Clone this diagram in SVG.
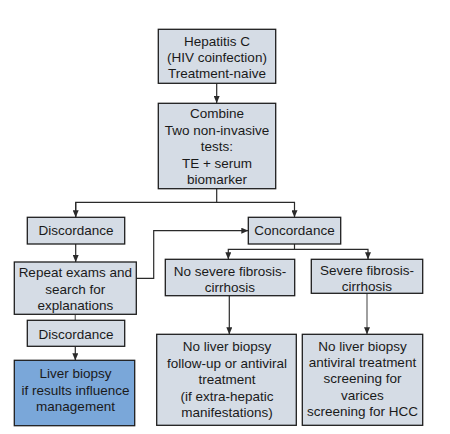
<svg xmlns="http://www.w3.org/2000/svg" width="450" height="434" viewBox="0 0 450 434">
<style>
.box{fill:#d5dce5;stroke:#1e1e1e;stroke-width:1.3}
.blue{fill:#7aa7d9;stroke:#1e1e1e;stroke-width:1.3}
text{font-family:"Liberation Sans",Arial,sans-serif;font-size:13.5px;fill:#1a1a1a;text-anchor:middle}
.c{fill:none;stroke:#2a2a2a;stroke-width:1.2}
.g{fill:none;stroke:#777;stroke-width:1.4}
</style>
<defs>
<marker id="ah" markerUnits="userSpaceOnUse" markerWidth="7" markerHeight="6" refX="7" refY="3" orient="auto">
<path d="M0,0 L7,3 L0,6 z" fill="#2a2a2a"/>
</marker>
</defs>
<rect width="450" height="434" fill="#ffffff"/>
<g id="connectors">
<path class="c" d="M216.7,83.3 V103" marker-end="url(#ah)"/>
<path class="c" d="M216.7,188.7 V202.3"/>
<path class="c" d="M75.7,217.3 V202.3 H294.5 V217.3" marker-end="url(#ah)"/>
<path class="c" d="M75.7,202.3 V217.3" marker-end="url(#ah)"/>
<path class="c" d="M75.7,244 V262" marker-end="url(#ah)"/>
<path class="c" d="M136.3,278.3 H153.7 V230.7 H248.3" marker-end="url(#ah)"/>
<path class="g" d="M75.3,314.3 V320.3"/>
<path class="c" d="M75.3,346.3 V360.3" marker-end="url(#ah)"/>
<path class="c" d="M294.5,244 V249.3 H368 V259.3" marker-end="url(#ah)"/>
<path class="c" d="M294.5,249.3 H228.3 V259.3" marker-end="url(#ah)"/>
<path class="c" d="M229.3,295.7 V334.3" marker-end="url(#ah)"/>
<path class="g" d="M367,293.3 V334.3" marker-end="url(#ah)"/>
</g>
<g id="n-hepatitis">
<rect class="box" x="158.3" y="29.3" width="117.4" height="54"/>
<text x="217" y="45.5">Hepatitis C</text>
<text x="217" y="61.5">(HIV coinfection)</text>
<text x="217" y="77.5">Treatment-naive</text>
</g>
<g id="n-combine">
<rect class="box" x="158.3" y="103.3" width="117.4" height="85.4"/>
<text x="217" y="118">Combine</text>
<text x="217" y="134.5">Two non-invasive</text>
<text x="217" y="151">tests:</text>
<text x="217" y="167.5">TE + serum</text>
<text x="217" y="184">biomarker</text>
</g>
<g id="n-discordance1">
<rect class="box" x="27.3" y="217.3" width="97.4" height="26.7"/>
<text x="76" y="235">Discordance</text>
</g>
<g id="n-concordance">
<rect class="box" x="248.3" y="217.3" width="92.4" height="26.7"/>
<text x="294.5" y="235">Concordance</text>
</g>
<g id="n-repeat">
<rect class="box" x="14.3" y="262" width="122" height="52.3"/>
<text x="75.3" y="277">Repeat exams and</text>
<text x="75.3" y="294">search for</text>
<text x="75.3" y="310">explanations</text>
</g>
<g id="n-nosevere">
<rect class="box" x="165.3" y="259.3" width="129.4" height="36.4"/>
<text x="230" y="275.5">No severe fibrosis-</text>
<text x="230" y="291.5">cirrhosis</text>
</g>
<g id="n-severe">
<rect class="box" x="311.3" y="259.3" width="111.4" height="34"/>
<text x="367" y="275">Severe fibrosis-</text>
<text x="367" y="291">cirrhosis</text>
</g>
<g id="n-discordance2">
<rect class="box" x="27.3" y="320.3" width="97.4" height="26"/>
<text x="76" y="339">Discordance</text>
</g>
<g id="n-liverbiopsy">
<rect class="blue" x="14.3" y="360.3" width="120.4" height="65.4"/>
<text x="75.5" y="378">Liver biopsy</text>
<text x="75.5" y="394.5">if results influence</text>
<text x="75.5" y="411">management</text>
</g>
<g id="n-nobiopsy1">
<rect class="box" x="156.7" y="334.3" width="139.6" height="91"/>
<text x="227" y="351">No liver biopsy</text>
<text x="227" y="367.5">follow-up or antiviral</text>
<text x="227" y="384">treatment</text>
<text x="227" y="400.5">(if extra-hepatic</text>
<text x="227" y="417">manifestations)</text>
</g>
<g id="n-nobiopsy2">
<rect class="box" x="302.3" y="334.3" width="120.4" height="91"/>
<text x="362.5" y="350.5">No liver biopsy</text>
<text x="362.5" y="367">antiviral treatment</text>
<text x="362.5" y="383">screening for</text>
<text x="362.5" y="399.5">varices</text>
<text x="362.5" y="416">screening for HCC</text>
</g>
</svg>
